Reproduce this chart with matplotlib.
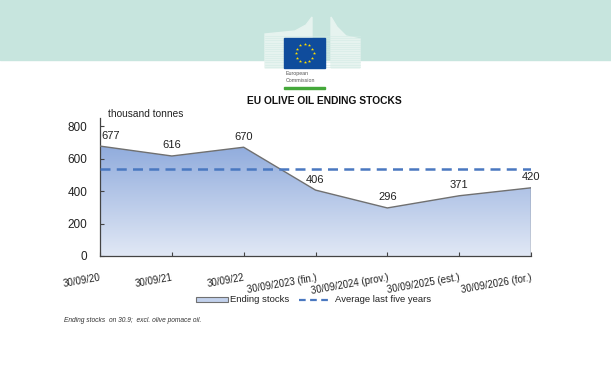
import numpy as np
import matplotlib
matplotlib.use("Agg")
import matplotlib.pyplot as plt
from matplotlib.patches import Rectangle, Polygon

plt.rcParams['font.family'] = ['Liberation Sans', 'DejaVu Sans']

# Data
dates = ['30/09/20', '30/09/21', '30/09/22', '30/09/2023 (fin.)',
         '30/09/2024 (prov.)', '30/09/2025 (est.)', '30/09/2026 (for.)']
stocks = [677, 616, 670, 406, 296, 371, 420]
avg_five_years = 533
yticks = [0, 200, 400, 600, 800]

W, H = 611, 365
fig = plt.figure(figsize=(W / 100, H / 100), dpi=100)

def fx(px):
    return np.asarray(px) / W

def fy(py):
    return 1 - np.asarray(py) / H

def fpoly(pts, **kw):
    pts = np.array(pts, dtype=float)
    return Polygon(np.column_stack([fx(pts[:, 0]), fy(pts[:, 1])]),
                   closed=True, transform=fig.transFigure, **kw)

# Header band with logo
fig.patches.append(Rectangle((0, fy(60)), 1, 60 / H, transform=fig.transFigure,
                             color='#c7e5de', zorder=0))
fig.patches.append(fpoly([(265, 68), (265, 34), (295, 31), (306, 25), (312, 17), (312, 68)],
                         color='#e6f3ef', zorder=1))
fig.patches.append(fpoly([(331, 68), (331, 17), (337, 27), (346, 36), (360, 39), (360, 68)],
                         color='#e6f3ef', zorder=1))
for yy in np.arange(36, 68, 2.2):
    fig.add_artist(plt.Line2D(fx([265, 360]), fy([yy, yy]), transform=fig.transFigure,
                              color='#d3ebe5', lw=0.4, zorder=1.5))
fig.patches.append(Rectangle((fx(284), fy(68)), 41 / W, 30 / H, transform=fig.transFigure,
                             color='#0f4c9c', zorder=2))
ang = np.linspace(0, 2 * np.pi, 13)[:-1]
sx = 304.5 + 9 * np.cos(ang)
sy = 53 + 9 * np.sin(ang)
fig.add_artist(plt.Line2D(fx(sx), fy(sy), transform=fig.transFigure, ls='none',
                          marker='*', ms=2.4, mew=0, color='#ffde00', zorder=3))
fig.text(fx(286), fy(73), 'European', fontsize=3.8, color='#555555', va='center')
fig.text(fx(286), fy(81), 'Commission', fontsize=3.8, color='#555555', va='center')
fig.patches.append(Rectangle((fx(284), fy(89)), 41 / W, 2 / H, transform=fig.transFigure,
                             color='#44a83a', zorder=2))

# Chart
ax = fig.add_axes([fx(100), fy(256), (531 - 100) / W, (256 - 118) / H])
x = np.arange(len(stocks))
ax.set_xlim(0, len(stocks) - 1)
ax.set_ylim(0, 850)

# gradient fill under the line
grad = np.linspace(0, 1, 256).reshape(-1, 1)
cmap = matplotlib.colors.LinearSegmentedColormap.from_list('g', ['#e1e8f5', '#8eaadc'])
im = ax.imshow(grad, extent=[0, len(stocks) - 1, 0, 700], origin='lower', aspect='auto',
               cmap=cmap, zorder=1)
poly = Polygon(np.column_stack([np.r_[x, x[-1], x[0]], np.r_[stocks, 0, 0]]),
               closed=True, facecolor='none', edgecolor='none')
ax.add_patch(poly)
im.set_clip_path(poly)
ax.plot(x, stocks, color='#707070', lw=1, zorder=3)
ax.plot([x[-1], x[-1]], [0, stocks[-1]], color='#707070', lw=1, zorder=3)

ax.plot([x[0], x[-1]], [avg_five_years, avg_five_years], color='#4a78c0', lw=1.8,
        ls=(0, (4, 2.5)), zorder=4)

for xi, v in zip(x, stocks):
    ha = 'left' if xi == 0 else 'center'
    ax.annotate(str(v), (xi, v), xytext=(1 if xi == 0 else 0, 4), textcoords='offset points',
                ha=ha, va='bottom', fontsize=8, color='#222222', zorder=5)

for s in ['top', 'right']:
    ax.spines[s].set_visible(False)
for s in ['left', 'bottom']:
    ax.spines[s].set_color('#444444')
    ax.spines[s].set_linewidth(0.9)
ax.set_yticks(yticks)
ax.set_xticks(x)
ax.set_xticklabels(dates, rotation=10, ha='right', rotation_mode='anchor')
ax.tick_params(axis='both', direction='in', length=3, color='#444444',
               labelcolor='#222222')
ax.tick_params(axis='x', pad=12, labelsize=7)
ax.tick_params(axis='y', pad=9, labelsize=8.5)

fig.text(fx(324), fy(101), 'EU OLIVE OIL ENDING STOCKS', ha='center', va='center',
         fontsize=7.4, fontweight='bold', color='#111111')
fig.text(fx(108), fy(114), 'thousand tonnes', ha='left', va='center', fontsize=7.3,
         color='#222222')

# Legend
fig.patches.append(Rectangle((fx(196), fy(302)), 32 / W, 5.5 / H, transform=fig.transFigure,
                             facecolor='#c2d1ec', edgecolor='#707070', lw=0.8))
fig.text(fx(230), fy(299.5), 'Ending stocks', ha='left', va='center', fontsize=6.8,
         color='#222222')
fig.add_artist(plt.Line2D([fx(299), fx(332)], [fy(299.5), fy(299.5)],
                          transform=fig.transFigure, color='#4a78c0', lw=1.6,
                          ls=(0, (3, 2))))
fig.text(fx(335), fy(299.5), 'Average last five years', ha='left', va='center',
         fontsize=6.8, color='#222222')

fig.text(fx(64), fy(320.5), 'Ending stocks  on 30.9;  excl. olive pomace oil.', ha='left',
         va='center', fontsize=4.8, style='italic', color='#333333')

fig.savefig('out.png', dpi=100)
